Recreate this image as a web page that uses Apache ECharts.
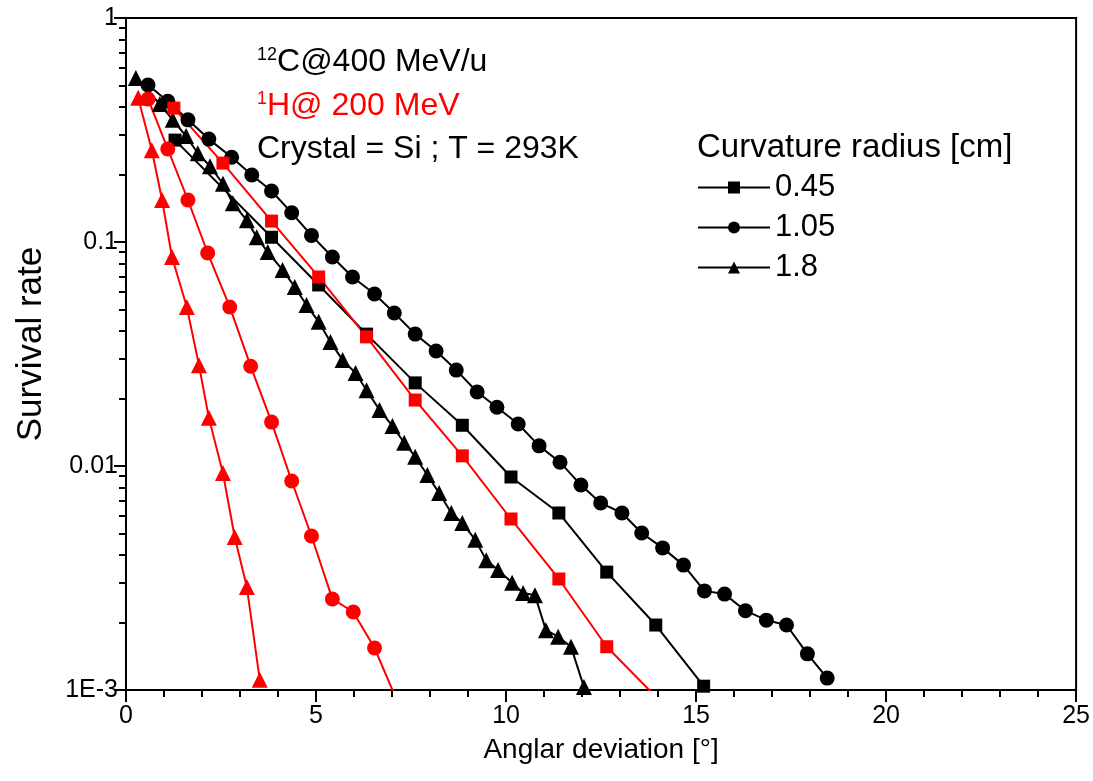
<!DOCTYPE html>
<html>
<head>
<meta charset="utf-8">
<script src="https://cdn.jsdelivr.net/npm/echarts@6/dist/echarts.min.js"></script>
<style>
  html, body { margin: 0; padding: 0; background: #fff; }
  #main { width: 1093px; height: 781px; }
</style>
</head>
<body>
<div id="main"></div>
<script>
// 12C @ 400 MeV/u, curvature radius 0.45 / 1.05 / 1.8 cm  ([angle, survival])
var c045 = [[1.29, 0.285], [3.83, 0.105], [5.07, 0.0643], [6.33, 0.0388], [7.61, 0.0235], [8.85, 0.0152],
  [10.13, 0.00893], [11.39, 0.00617], [12.65, 0.00336], [13.94, 0.00195], [15.2, 0.00104]];
var c105 = [[0.58, 0.502], [1.1, 0.425], [1.63, 0.351], [2.18, 0.288], [2.78, 0.239], [3.31, 0.199],
  [3.83, 0.169], [4.36, 0.135], [4.88, 0.107], [5.43, 0.0857], [5.96, 0.0698], [6.54, 0.0586],
  [7.06, 0.0482], [7.61, 0.0388], [8.16, 0.0326], [8.69, 0.0268], [9.24, 0.0214], [9.76, 0.0183],
  [10.32, 0.0154], [10.87, 0.0123], [11.42, 0.0104], [11.97, 0.00822], [12.49, 0.00684], [13.05, 0.00617],
  [13.57, 0.00502], [14.12, 0.00431], [14.67, 0.00361], [15.22, 0.00277], [15.75, 0.00268], [16.3, 0.00226],
  [16.85, 0.00205], [17.38, 0.00195], [17.93, 0.00145], [18.45, 0.00113]];
var c18 = [[0.26, 0.54], [0.89, 0.413], [1.23, 0.351], [1.58, 0.297], [1.89, 0.249], [2.21, 0.218],
  [2.55, 0.182], [2.81, 0.149], [3.18, 0.125], [3.44, 0.105], [3.73, 0.0902], [4.12, 0.075],
  [4.44, 0.063], [4.75, 0.0523], [5.07, 0.044], [5.38, 0.0358], [5.7, 0.0297], [6.04, 0.026],
  [6.33, 0.0218], [6.67, 0.0178], [7.01, 0.0151], [7.32, 0.0127], [7.61, 0.011], [7.93, 0.00912],
  [8.24, 0.00757], [8.56, 0.00617], [8.85, 0.00557], [9.19, 0.00468], [9.48, 0.0038], [9.79, 0.00343],
  [10.16, 0.00301], [10.45, 0.00271], [10.76, 0.00265], [11.05, 0.00185], [11.37, 0.00173], [11.71, 0.00156],
  [12.05, 0.00103]];
// 1H @ 200 MeV
var h045 = [[1.26, 0.396], [2.55, 0.225], [3.83, 0.124], [5.07, 0.0698], [6.33, 0.0377], [7.61, 0.0197],
  [8.85, 0.0111], [10.13, 0.0058], [11.39, 0.00313], [12.65, 0.00156], [13.95, 0.00093]];
var h105 = [[0.58, 0.435], [1.1, 0.26], [1.63, 0.154], [2.15, 0.0893], [2.73, 0.0513], [3.28, 0.0279],
  [3.83, 0.0157], [4.36, 0.00857], [4.88, 0.00487], [5.43, 0.00255], [5.98, 0.00223], [6.54, 0.00154],
  [7.09, 0.00093]];
var h18 = [[0.32, 0.44], [0.68, 0.257], [0.95, 0.154], [1.21, 0.0857], [1.6, 0.0513], [1.92, 0.0282],
  [2.18, 0.0164], [2.55, 0.00931], [2.86, 0.00482], [3.18, 0.00288], [3.52, 0.00111]];

var radiusNames = ["0.45", "1.05", "1.8"];
var yTickValues = [0.001, 0.01, 0.1, 1];
var yTickText = ["1E-3", "0.01", "0.1", "1"];

var FONT = "Liberation Sans, Arial, sans-serif";

function mk(name, data, symbol, size, color) {
  return {
    name: name,
    type: "line",
    data: data,
    symbol: symbol,
    symbolSize: size,
    color: color,
    lineStyle: { width: 2, color: color },
    itemStyle: { color: color },
    emphasis: { disabled: true },
    animation: false
  };
}

var chart = echarts.init(document.getElementById("main"));
chart.setOption({
  backgroundColor: "#fff",
  textStyle: { fontFamily: FONT },
  grid: {
    left: 126, right: 15, top: 18, bottom: 91,
    show: true, borderColor: "#000", borderWidth: 2, backgroundColor: "transparent"
  },
  legend: {
    data: radiusNames,
    orient: "vertical",
    left: 692, top: 167,
    itemWidth: 72, itemHeight: 15, itemGap: 9,
    textStyle: { fontSize: 31, color: "#000", fontFamily: FONT },
    inactiveColor: "#000"
  },
  graphic: [
    {
      type: "text", left: 257, top: 46,
      style: {
        text: "{sup|12}{n|C@400 MeV/u}",
        rich: {
          sup: { fontSize: 18, fontFamily: FONT, fill: "#000", verticalAlign: "top", padding: [0, 0, 13, 0] },
          n: { fontSize: 32, fontFamily: FONT, fill: "#000" }
        }
      }
    },
    {
      type: "text", left: 257, top: 90,
      style: {
        text: "{sup|1}{n|H@ 200 MeV}",
        rich: {
          sup: { fontSize: 18, fontFamily: FONT, fill: "#ff0000", verticalAlign: "top", padding: [0, 0, 13, 0] },
          n: { fontSize: 32, fontFamily: FONT, fill: "#ff0000" }
        }
      }
    },
    {
      type: "text", left: 257, top: 133,
      style: { text: "Crystal = Si ; T = 293K", fontSize: 32, fontFamily: FONT, fill: "#000" }
    },
    {
      type: "text", left: 697, top: 131,
      style: { text: "Curvature radius [cm]", fontSize: 33, fontFamily: FONT, fill: "#000" }
    }
  ],
  xAxis: {
    type: "value",
    min: 0, max: 25, interval: 5,
    name: "Anglar deviation [°]",
    nameLocation: "middle",
    nameGap: 46,
    nameTextStyle: { fontSize: 28, color: "#000", fontFamily: FONT },
    axisLine: { show: true, onZero: false, lineStyle: { color: "#000", width: 2 } },
    axisTick: { show: true, inside: false, length: 12, lineStyle: { color: "#000", width: 2 } },
    minorTick: { show: true, splitNumber: 5, length: 7, lineStyle: { color: "#000", width: 2 } },
    axisLabel: { fontSize: 25, color: "#000", margin: 14, fontFamily: FONT },
    splitLine: { show: false }
  },
  yAxis: {
    type: "log",
    logBase: 10,
    min: 0.001, max: 1,
    name: "Survival rate",
    nameLocation: "middle",
    nameGap: 77,
    nameTextStyle: { fontSize: 35, color: "#000", fontFamily: FONT, padding: [0, 0, 0, 20] },
    axisLine: { show: true, lineStyle: { color: "#000", width: 2 } },
    axisTick: { show: true, inside: false, length: 12, lineStyle: { color: "#000", width: 2 } },
    minorTick: { show: true, splitNumber: 9, length: 7, lineStyle: { color: "#000", width: 2 } },
    axisLabel: {
      fontSize: 25, color: "#000", margin: 8, fontFamily: FONT,
      formatter: function (v) {
        for (var i = 0; i < yTickValues.length; i++) {
          if (Math.abs(Math.log10(v) - Math.log10(yTickValues[i])) < 1e-6) return yTickText[i];
        }
        return "";
      }
    },
    splitLine: { show: false }
  },
  series: [
    mk("0.45", c045, "rect", 13, "#000"),
    mk("1.05", c105, "circle", 15, "#000"),
    mk("1.8", c18, "triangle", 16, "#000"),
    mk("H 0.45", h045, "rect", 13, "#ff0000"),
    mk("H 1.05", h105, "circle", 15, "#ff0000"),
    mk("H 1.8", h18, "triangle", 16, "#ff0000")
  ]
});
</script>
</body>
</html>
